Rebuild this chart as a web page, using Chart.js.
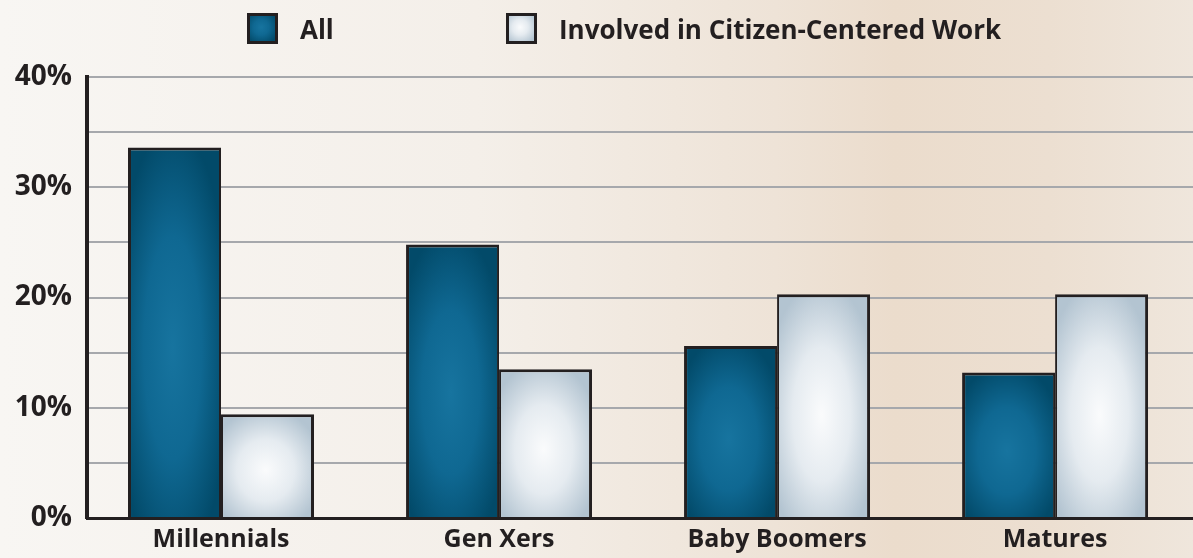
<!DOCTYPE html>
<html>
<head>
<meta charset="utf-8">
<title>Generations</title>
<script src="https://cdn.jsdelivr.net/npm/chart.js@4"></script>
<style>
  html, body {
    margin: 0;
    padding: 0;
    overflow: hidden;
  }
  body {
    width: 1193px;
    height: 558px;
    background: linear-gradient(90deg, #f8f6f3 0%, #f4efe9 40%, #eee3d7 65%, #ebdccc 75%, #ecdfd1 88%, #efe6dc 100%);
    font-family: "Open Sans", sans-serif;
    color: #231f20;
  }
  #wrap {
    position: relative;
    width: 1193px;
    height: 558px;
  }
  #legend {
    position: absolute;
    top: 0;
    left: 0;
    width: 100%;
  }
  .item {
    position: absolute;
    top: 13px;
    height: 31px;
    display: flex;
    align-items: center;
    font-weight: 700;
    font-size: 26px;
  }
  .swatch {
    box-sizing: border-box;
    width: 31px;
    height: 31px;
    border: 3px solid #231f20;
    margin-right: 22px;
  }
  canvas {
    position: absolute;
    top: 0;
    left: 0;
  }
</style>
</head>
<body>
<div id="wrap">
  <canvas id="myChart" width="1193" height="558"></canvas>
  <div id="legend"></div>
</div>
<script>
'use strict';

// Chart data

let generations = ['Millennials', 'Gen Xers', 'Baby Boomers', 'Matures'];
let allShare = [33.6, 24.8, 15.6, 13.2];
let citizenShare = [9.4, 13.5, 20.3, 20.3];
let seriesNames = ['All', 'Involved in Citizen-Centered Work'];
let yTicks = [0, 10, 20, 30, 40];

// colour stops for the radial fill of each series, centre -> edge
let blueFill = ['#17749f', '#0f6892', '#024a69'];
let paleFill = ['#fafbfc', '#e5ebf0', '#b3c4d1'];

// whole-pixel bar width keeps the borders crisp
let barW = 93;

// generation slots sit on a numeric axis so the first group can start
// a little way in from the y axis line
function toPoints(values) {
  return values.map(function(v, i) {
    return {x: i, y: v};
  });
}

// builds an elliptical radial fill sized to one bar, anchored at its corner
function barPattern(chart, left, top, w, h, colors) {
  let off = document.createElement('canvas');
  off.width = Math.max(1, Math.round(w));
  off.height = Math.max(1, Math.ceil(h));
  let g = off.getContext('2d');
  g.setTransform(w * 0.62, 0, 0, h * 0.6, w * 0.48, h * 0.54);
  let grad = g.createRadialGradient(0, 0, 0, 0, 0, 1);
  grad.addColorStop(0, colors[0]);
  grad.addColorStop(0.5, colors[1]);
  grad.addColorStop(1, colors[2]);
  g.fillStyle = grad;
  g.fillRect(-3, -3, 6, 6);
  let pattern = chart.ctx.createPattern(off, 'no-repeat');
  pattern.setTransform(new DOMMatrix([1, 0, 0, 1, left, top]));
  return pattern;
}

function fillFor(colors) {
  return function(ctx) {
    let chart = ctx.chart;
    let xs = chart.scales.x;
    let ys = chart.scales.y;
    if (ctx.type !== 'data' || !xs || !ys || !(xs.width > 0)) {
      return colors[2];
    }
    let center = xs.getPixelForValue(ctx.raw.x);
    let left = center - barW + ctx.datasetIndex * barW;
    let top = ys.getPixelForValue(ctx.raw.y);
    let base = ys.getPixelForValue(0);
    return barPattern(chart, left, top, barW, base - top, colors);
  };
}

// legend above the plot

function addLegendItem(text, left, colors) {
  let item = document.createElement('div');
  item.className = 'item';
  item.style.left = left + 'px';
  let sw = document.createElement('div');
  sw.className = 'swatch';
  sw.style.background = `radial-gradient(circle at 45% 45%, ${colors[0]} 0%, ${colors[1]} 40%, ${colors[2]} 90%)`;
  let label = document.createElement('span');
  label.textContent = text;
  item.appendChild(sw);
  item.appendChild(label);
  document.getElementById('legend').appendChild(item);
}

addLegendItem(seriesNames[0], 247, blueFill);
addLegendItem(seriesNames[1], 506, paleFill);

const data = {
  datasets: [{
    label: seriesNames[0],
    data: toPoints(allShare),
    backgroundColor: fillFor(blueFill),
    borderColor: '#231f20',
    borderWidth: {top: 3, left: 3, right: 2, bottom: 0},
    borderSkipped: false
  }, {
    label: seriesNames[1],
    data: toPoints(citizenShare),
    backgroundColor: fillFor(paleFill),
    borderColor: '#231f20',
    borderWidth: {top: 3, left: 2, right: 3, bottom: 0},
    borderSkipped: false
  }]
};

const config = {
  type: 'bar',
  data: data,
  options: {
    responsive: false,
    animation: false,
    layout: {
      padding: {top: 77, left: 8, right: 0, bottom: 0}
    },
    barThickness: barW,
    inflateAmount: 0,
    plugins: {
      legend: {display: false},
      tooltip: {enabled: false}
    },
    scales: {
      x: {
        type: 'linear',
        offset: false,
        min: -0.482,
        max: 3.496,
        grid: {display: false, drawTicks: false, offset: false},
        border: {display: true, color: '#231f20', width: 3},
        ticks: {
          color: '#231f20',
          padding: 7,
          font: {family: 'Open Sans', weight: '700', size: 25},
          callback: function(value) {
            return generations[value] || '';
          }
        },
        afterBuildTicks: function(scale) {
          scale.ticks = generations.map(function(name, i) {
            return {value: i};
          });
        },
        afterFit: function(scale) {
          scale.height = 40;
        }
      },
      y: {
        min: 0,
        max: 40,
        grid: {
          drawTicks: false,
          lineWidth: 2,
          color: function(ctx) {
            return ctx.tick && ctx.tick.value === 0 ? 'rgba(0,0,0,0)' : '#a6a8ac';
          }
        },
        border: {display: true, color: '#231f20', width: 4},
        ticks: {
          stepSize: 5,
          padding: 15,
          color: '#231f20',
          font: {family: 'Open Sans', weight: '700', size: 28},
          callback: function(value) {
            return yTicks.includes(value) ? value + '%' : '';
          }
        },
        afterFit: function(scale) {
          scale.width = 79;
        }
      }
    }
  }
};

const myChart = new Chart(
  document.getElementById('myChart'),
  config
);
</script>
</body>
</html>
